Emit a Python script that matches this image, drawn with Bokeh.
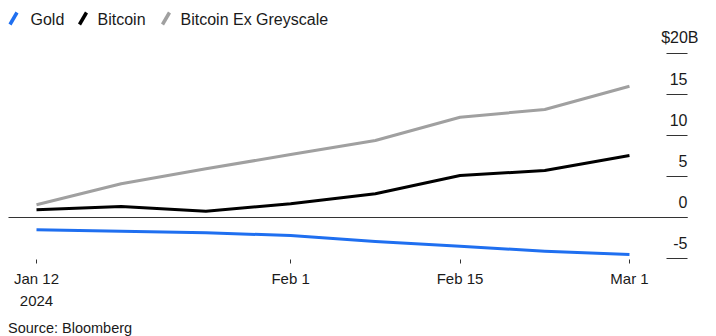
from bokeh.plotting import figure
from bokeh.layouts import column
from bokeh.models import Range1d, LinearAxis, FixedTicker, ColumnDataSource, Label, Arrow, Div
from bokeh.core.properties import value
from bokeh.embed import file_html
from bokeh.resources import INLINE

# ---- data ----
week_index = [0, 1, 2, 3, 4, 5, 6, 7]
gold = [-1.50, -1.67, -1.87, -2.20, -2.93, -3.50, -4.11, -4.51]
bitcoin = [0.94, 1.34, 0.77, 1.67, 2.89, 5.12, 5.73, 7.56]
bitcoin_ex_greyscale = [1.55, 4.11, 5.94, 7.68, 9.39, 12.23, 13.17, 16.01]
series_names = ["Gold", "Bitcoin", "Bitcoin Ex Greyscale"]
series_colors = ["#1f6ff0", "#000000", "#a0a0a0"]
x_tick_positions = [0, 3, 5, 7]
x_tick_labels = ["Jan 12\n2024", "Feb 1", "Feb 15", "Mar 1"]
y_ticks = [20, 15, 10, 5, 0, -5]
y_tick_labels = ["$20B", "15", "10", "5", "0", "-5"]
source_note = "Source: Bloomberg"

FONT = "Liberation Sans"
TEXT_COLOR = "#1a1a1a"

# pixel <-> data helpers (layout only)
PX_PER_X, X0_PX = 84.71, 36.0
PX_PER_Y, Y0_PX = 8.2, 217.0
def x_of(px):
    return (px - X0_PX) / PX_PER_X
def y_of(py):
    return (Y0_PX - py) / PX_PER_Y

FRAME_BOTTOM = 259
MAIN_HEIGHT = 320

p = figure(width=716, height=MAIN_HEIGHT, output_backend="svg", toolbar_location=None,
           x_range=Range1d(x_of(0), x_of(716)), y_range=Range1d(y_of(FRAME_BOTTOM), y_of(0)),
           x_axis_type=None, y_axis_type=None,
           min_border_left=0, min_border_right=0, min_border_top=0,
           min_border_bottom=MAIN_HEIGHT - FRAME_BOTTOM)
p.outline_line_color = None
p.background_fill_color = "white"
p.border_fill_color = "white"
p.xgrid.visible = False
p.ygrid.visible = False

# x axis
xaxis = LinearAxis(ticker=FixedTicker(ticks=x_tick_positions))
xaxis.major_label_overrides = {t: l for t, l in zip(x_tick_positions, x_tick_labels)}
xaxis.axis_line_color = None
xaxis.major_tick_out = 4
xaxis.major_tick_in = 0
xaxis.major_tick_line_color = "#333333"
xaxis.minor_tick_line_color = None
xaxis.major_label_standoff = 6
xaxis.major_label_text_font = FONT
xaxis.major_label_text_font_size = "15px"
xaxis.major_label_text_line_height = 1.3
xaxis.major_label_text_color = TEXT_COLOR
p.add_layout(xaxis, "below")

# zero line and right-side tick dashes
p.segment(x0=[x_of(8)], x1=[x_of(687)], y0=[0], y1=[0], line_color="#333333", line_width=1.2)
p.segment(x0=x_of(666), x1=x_of(687), y0=y_ticks, y1=y_ticks, line_color="#333333", line_width=1.2)

ysrc = ColumnDataSource(dict(y=y_ticks, text=y_tick_labels,
                             xoff=[11 if i == 0 else 0 for i in range(len(y_ticks))]))
p.text(x=x_of(687), y="y", text="text", x_offset="xoff", y_offset=-16, source=ysrc,
       text_align="right", text_baseline="alphabetic", text_font=value(FONT),
       text_font_size="16px", text_color=TEXT_COLOR)

# series lines
series_values = [gold, bitcoin, bitcoin_ex_greyscale]
for vals, col in reversed(list(zip(series_values, series_colors))):
    p.line(week_index, vals, line_color=col, line_width=3, line_join="round")

# legend (slash markers + labels)
slash_x = [9.5, 79.0, 162.0]
label_x = [30.0, 97.0, 180.0]
for name, col, sx, lx in zip(series_names, series_colors, slash_x, label_x):
    p.add_layout(Arrow(end=None, x_start=x_of(sx), y_start=y_of(24.0), x_end=x_of(sx + 7),
                       y_end=y_of(12.0), line_color=col, line_width=3.5))
    p.add_layout(Label(x=x_of(lx), y=y_of(18.5), text=name, text_font=FONT,
                       text_font_size="16px", text_color=TEXT_COLOR,
                       text_baseline="alphabetic"))

# source note
note = Div(text=source_note, width=716, height=336 - MAIN_HEIGHT, margin=(0, 0, 0, 0),
           styles={"font-family": FONT, "font-size": "14.5px", "color": TEXT_COLOR,
                   "line-height": "16px", "padding-left": "8px", "white-space": "nowrap"})

layout = column(p, note, spacing=0)
open("out.html", "w").write(file_html(layout, INLINE))
